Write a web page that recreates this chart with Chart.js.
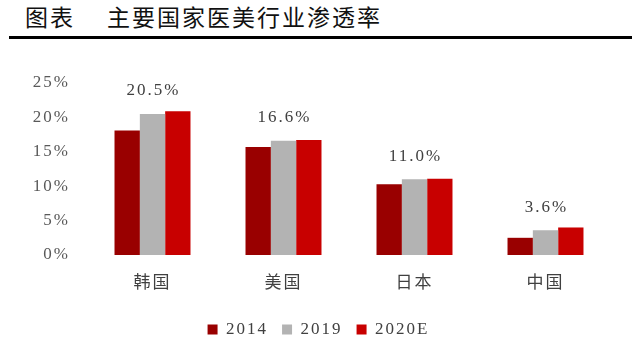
<!DOCTYPE html>
<html>
<head>
<meta charset="utf-8">
<script src="https://cdn.jsdelivr.net/npm/chart.js@4"></script>
<style>
  html, body { margin: 0; padding: 0; background: #fff; }
  #wrap { position: relative; width: 640px; height: 349px; overflow: hidden; }
  .t { position: absolute; top: 0; line-height: 32px; font: 400 23px/32px "Noto Sans CJK SC", sans-serif; color: #111; white-space: pre; letter-spacing: 2px; }
  #rule { position: absolute; left: 9px; top: 36px; width: 623px; height: 3px; background: #000; }
  canvas { position: absolute; left: 0; top: 0; }
</style>
</head>
<body>
<div id="wrap">
  <div class="t" style="left:25px">图表</div>
  <div class="t" style="left:107px">主要国家医美行业渗透率</div>
  <div id="rule"></div>
  <canvas id="c" width="640" height="349"></canvas>
</div>
<script>
const countries = ["韩国", "美国", "日本", "中国"];
const years = ["2014", "2019", "2020E"];
const v2014 = [18.1, 15.7, 10.3, 2.5];
const v2019 = [20.5, 16.6, 11.0, 3.6];
const v2020E = [20.9, 16.7, 11.1, 4.0];
const yTicks = [0, 5, 10, 15, 20, 25];

const colors = ["#990000", "#b3b3b3", "#c80000"];
const serif = '"Liberation Serif", serif';
const H = 349, PAD_B = 1, AXIS_BOTTOM = 255;

// 在 2019 柱上方标数值
const labelPlugin = {
  id: "valLabels",
  beforeDraw(chart) { chart.ctx.letterSpacing = "2px"; },
  afterDatasetsDraw(chart) {
    const ctx = chart.ctx;
    const meta = chart.getDatasetMeta(1);
    ctx.save();
    ctx.letterSpacing = "2px";
    ctx.font = "17px " + serif;
    ctx.fillStyle = "#404040";
    ctx.textAlign = "center";
    ctx.textBaseline = "middle";
    meta.data.forEach((bar, i) => {
      ctx.fillText(v2019[i].toFixed(1) + "%", bar.x + 1, bar.y - 23);
    });
    ctx.restore();
  },
};

new Chart(document.getElementById("c"), {
  type: "bar",
  data: {
    labels: countries,
    datasets: [v2014, v2019, v2020E].map((d, i) => ({
      label: years[i],
      data: d,
      backgroundColor: colors[i],
      categoryPercentage: 0.58,
      barPercentage: 1,
    })),
  },
  options: {
    responsive: false,
    animation: false,
    layout: { padding: { top: 83, right: 29, bottom: PAD_B, left: 0 } },
    plugins: {
      legend: {
        position: "bottom",
        labels: {
          boxWidth: 10, boxHeight: 10, padding: 14,
          color: "#404040",
          font: { family: serif, size: 17 },
        },
      },
      tooltip: { enabled: false },
    },
    scales: {
      x: {
        grid: { display: false, drawTicks: false },
        border: { display: false },
        ticks: { color: "#404040", padding: 16, font: { family: '"Noto Sans CJK SC", sans-serif', size: 17 } },
        afterFit: s => { s.height = H - PAD_B - s.chart.legend.height - AXIS_BOTTOM; },
      },
      y: {
        min: 0, max: 25,
        afterBuildTicks: s => { s.ticks = yTicks.map(v => ({ value: v })); },
        grid: { display: false, drawTicks: false },
        border: { display: false },
        ticks: { color: "#595959", padding: 17, callback: v => v + "%", font: { family: serif, size: 17 } },
        afterFit: s => { s.width = 87; },
      },
    },
  },
  plugins: [labelPlugin],
});
</script>
</body>
</html>
